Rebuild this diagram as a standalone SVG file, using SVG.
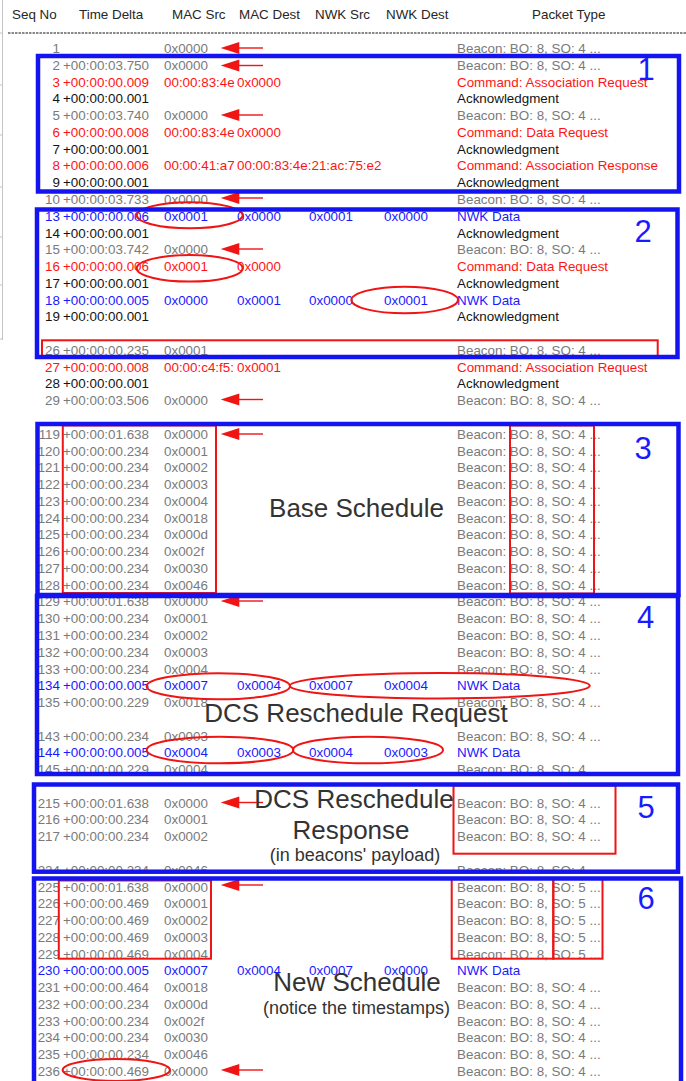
<svg xmlns="http://www.w3.org/2000/svg" width="686" height="1081" viewBox="0 0 686 1081">
<style>
  text { font-family: "Liberation Sans", Arial, sans-serif; }
  .row text { font-size: 13.4px; }
  .g { fill: #7a7a7a; }
  .r { fill: #ff1414; }
  .k { fill: #141414; }
  .b { fill: #1a1aff; }
  .seq { text-anchor: end; }
  .hdr { font-size: 13.4px; fill: #262626; }
  .sect { fill: none; stroke: #1414f0; stroke-width: 4.5; }
  .num { font-size: 31px; fill: #1a1aff; text-anchor: middle; }
  .mark { fill: none; stroke: #f01414; stroke-width: 2; }
  .big { font-size: 26px; fill: #333333; text-anchor: middle; }
  .small { font-size: 18px; fill: #333333; text-anchor: middle; }
  .arrow line { stroke: #f01414; stroke-width: 1.4; }
  .arrow path { fill: #f01414; }
</style>
<defs>
  <clipPath id="clip224"><rect x="0" y="850" width="686" height="21.5"/></clipPath>
  <g id="arr" class="arrow">
    <line x1="236" y1="0" x2="263" y2="0"/>
    <path d="M220.7 0 L239.3 -6 L239.3 6 Z"/>
  </g>
</defs>
<rect width="686" height="1081" fill="#ffffff"/>

<!-- window edge -->
<g id="edge" stroke="#c4c4c4" stroke-width="1">
  <line x1="2.5" y1="0" x2="2.5" y2="340"/>
  <line x1="0" y1="33" x2="3" y2="33"/>
  <line x1="0" y1="85" x2="3" y2="85"/>
  <line x1="0" y1="135" x2="3" y2="135"/>
  <line x1="0" y1="187" x2="3" y2="187"/>
  <line x1="0" y1="237" x2="3" y2="237"/>
  <line x1="0" y1="285" x2="3" y2="285"/>
  <line x1="0" y1="339" x2="3" y2="339"/>
</g>

<!-- column header -->
<g id="header">
  <text class="hdr" x="12" y="19">Seq No</text>
  <text class="hdr" x="79" y="19">Time Delta</text>
  <text class="hdr" x="172" y="19">MAC Src</text>
  <text class="hdr" x="239" y="19">MAC Dest</text>
  <text class="hdr" x="315" y="19">NWK Src</text>
  <text class="hdr" x="386" y="19">NWK Dest</text>
  <text class="hdr" x="532" y="19">Packet Type</text>
  <line x1="8" y1="33" x2="686" y2="33" stroke="#8a8a8a" stroke-width="2" stroke-dasharray="2.5 1"/>
</g>

<!-- packet rows: seq right-aligned at 60, delta 63, MAC src 164, MAC dest 237, NWK src 309, NWK dest 384, type 457 -->
<g id="rows-association" class="row">
  <g class="g"><text class="seq" x="60" y="53">1</text><text x="164" y="53">0x0000</text><text x="457" y="53">Beacon: BO: 8, SO: 4 ...</text></g>
  <g class="g"><text class="seq" x="60" y="69.8">2</text><text x="63" y="69.8">+00:00:03.750</text><text x="164" y="69.8">0x0000</text><text x="457" y="69.8">Beacon: BO: 8, SO: 4 ...</text></g>
  <g class="r"><text class="seq" x="60" y="86.5">3</text><text x="63" y="86.5">+00:00:00.009</text><text x="164" y="86.5">00:00:83:4e</text><text x="237" y="86.5">0x0000</text><text x="457" y="86.5">Command: Association Request</text></g>
  <g class="k"><text class="seq" x="60" y="103.3">4</text><text x="63" y="103.3">+00:00:00.001</text><text x="457" y="103.3">Acknowledgment</text></g>
  <g class="g"><text class="seq" x="60" y="120.1">5</text><text x="63" y="120.1">+00:00:03.740</text><text x="164" y="120.1">0x0000</text><text x="457" y="120.1">Beacon: BO: 8, SO: 4 ...</text></g>
  <g class="r"><text class="seq" x="60" y="136.9">6</text><text x="63" y="136.9">+00:00:00.008</text><text x="164" y="136.9">00:00:83:4e</text><text x="237" y="136.9">0x0000</text><text x="457" y="136.9">Command: Data Request</text></g>
  <g class="k"><text class="seq" x="60" y="153.6">7</text><text x="63" y="153.6">+00:00:00.001</text><text x="457" y="153.6">Acknowledgment</text></g>
  <g class="r"><text class="seq" x="60" y="170.4">8</text><text x="63" y="170.4">+00:00:00.006</text><text x="164" y="170.4">00:00:41:a7</text><text x="237" y="170.4">00:00:83:4e:21:ac:75:e2</text><text x="457" y="170.4">Command: Association Response</text></g>
  <g class="k"><text class="seq" x="60" y="187.2">9</text><text x="63" y="187.2">+00:00:00.001</text><text x="457" y="187.2">Acknowledgment</text></g>
  <g class="g"><text class="seq" x="60" y="203.9">10</text><text x="63" y="203.9">+00:00:03.733</text><text x="164" y="203.9">0x0000</text><text x="457" y="203.9">Beacon: BO: 8, SO: 4 ...</text></g>
  <g class="b"><text class="seq" x="60" y="220.7">13</text><text x="63" y="220.7">+00:00:00.006</text><text x="164" y="220.7">0x0001</text><text x="237" y="220.7">0x0000</text><text x="309" y="220.7">0x0001</text><text x="384" y="220.7">0x0000</text><text x="457" y="220.7">NWK Data</text></g>
  <g class="k"><text class="seq" x="60" y="237.5">14</text><text x="63" y="237.5">+00:00:00.001</text><text x="457" y="237.5">Acknowledgment</text></g>
  <g class="g"><text class="seq" x="60" y="254.2">15</text><text x="63" y="254.2">+00:00:03.742</text><text x="164" y="254.2">0x0000</text><text x="457" y="254.2">Beacon: BO: 8, SO: 4 ...</text></g>
  <g class="r"><text class="seq" x="60" y="271">16</text><text x="63" y="271">+00:00:00.006</text><text x="164" y="271">0x0001</text><text x="237" y="271">0x0000</text><text x="457" y="271">Command: Data Request</text></g>
  <g class="k"><text class="seq" x="60" y="287.8">17</text><text x="63" y="287.8">+00:00:00.001</text><text x="457" y="287.8">Acknowledgment</text></g>
  <g class="b"><text class="seq" x="60" y="304.6">18</text><text x="63" y="304.6">+00:00:00.005</text><text x="164" y="304.6">0x0000</text><text x="237" y="304.6">0x0001</text><text x="309" y="304.6">0x0000</text><text x="384" y="304.6">0x0001</text><text x="457" y="304.6">NWK Data</text></g>
  <g class="k"><text class="seq" x="60" y="321.3">19</text><text x="63" y="321.3">+00:00:00.001</text><text x="457" y="321.3">Acknowledgment</text></g>
  <g class="g"><text class="seq" x="60" y="354.9">26</text><text x="63" y="354.9">+00:00:00.235</text><text x="164" y="354.9">0x0001</text><text x="457" y="354.9">Beacon: BO: 8, SO: 4 ...</text></g>
  <g class="r"><text class="seq" x="60" y="371.6">27</text><text x="63" y="371.6">+00:00:00.008</text><text x="164" y="371.6">00:00:c4:f5:</text><text x="237" y="371.6">0x0001</text><text x="457" y="371.6">Command: Association Request</text></g>
  <g class="k"><text class="seq" x="60" y="388.4">28</text><text x="63" y="388.4">+00:00:00.001</text><text x="457" y="388.4">Acknowledgment</text></g>
  <g class="g"><text class="seq" x="60" y="405.2">29</text><text x="63" y="405.2">+00:00:03.506</text><text x="164" y="405.2">0x0000</text><text x="457" y="405.2">Beacon: BO: 8, SO: 4 ...</text></g>
</g>

<g id="rows-base" class="row g">
  <text class="seq" x="60" y="438.7">119</text><text x="63" y="438.7">+00:00:01.638</text><text x="164" y="438.7">0x0000</text><text x="457" y="438.7">Beacon: BO: 8, SO: 4 ...</text>
  <text class="seq" x="60" y="455.5">120</text><text x="63" y="455.5">+00:00:00.234</text><text x="164" y="455.5">0x0001</text><text x="457" y="455.5">Beacon: BO: 8, SO: 4 ...</text>
  <text class="seq" x="60" y="472.3">121</text><text x="63" y="472.3">+00:00:00.234</text><text x="164" y="472.3">0x0002</text><text x="457" y="472.3">Beacon: BO: 8, SO: 4 ...</text>
  <text class="seq" x="60" y="489">122</text><text x="63" y="489">+00:00:00.234</text><text x="164" y="489">0x0003</text><text x="457" y="489">Beacon: BO: 8, SO: 4 ...</text>
  <text class="seq" x="60" y="505.8">123</text><text x="63" y="505.8">+00:00:00.234</text><text x="164" y="505.8">0x0004</text><text x="457" y="505.8">Beacon: BO: 8, SO: 4 ...</text>
  <text class="seq" x="60" y="522.6">124</text><text x="63" y="522.6">+00:00:00.234</text><text x="164" y="522.6">0x0018</text><text x="457" y="522.6">Beacon: BO: 8, SO: 4 ...</text>
  <text class="seq" x="60" y="539.3">125</text><text x="63" y="539.3">+00:00:00.234</text><text x="164" y="539.3">0x000d</text><text x="457" y="539.3">Beacon: BO: 8, SO: 4 ...</text>
  <text class="seq" x="60" y="556.1">126</text><text x="63" y="556.1">+00:00:00.234</text><text x="164" y="556.1">0x002f</text><text x="457" y="556.1">Beacon: BO: 8, SO: 4 ...</text>
  <text class="seq" x="60" y="572.9">127</text><text x="63" y="572.9">+00:00:00.234</text><text x="164" y="572.9">0x0030</text><text x="457" y="572.9">Beacon: BO: 8, SO: 4 ...</text>
  <text class="seq" x="60" y="589.6">128</text><text x="63" y="589.6">+00:00:00.234</text><text x="164" y="589.6">0x0046</text><text x="457" y="589.6">Beacon: BO: 8, SO: 4 ...</text>
</g>

<g id="rows-request" class="row">
  <g class="g">
    <text class="seq" x="60" y="606.4">129</text><text x="63" y="606.4">+00:00:01.638</text><text x="164" y="606.4">0x0000</text><text x="457" y="606.4">Beacon: BO: 8, SO: 4 ...</text>
    <text class="seq" x="60" y="623.2">130</text><text x="63" y="623.2">+00:00:00.234</text><text x="164" y="623.2">0x0001</text><text x="457" y="623.2">Beacon: BO: 8, SO: 4 ...</text>
    <text class="seq" x="60" y="640">131</text><text x="63" y="640">+00:00:00.234</text><text x="164" y="640">0x0002</text><text x="457" y="640">Beacon: BO: 8, SO: 4 ...</text>
    <text class="seq" x="60" y="656.7">132</text><text x="63" y="656.7">+00:00:00.234</text><text x="164" y="656.7">0x0003</text><text x="457" y="656.7">Beacon: BO: 8, SO: 4 ...</text>
    <text class="seq" x="60" y="673.5">133</text><text x="63" y="673.5">+00:00:00.234</text><text x="164" y="673.5">0x0004</text><text x="457" y="673.5">Beacon: BO: 8, SO: 4 ...</text>
  </g>
  <g class="b"><text class="seq" x="60" y="690.3">134</text><text x="63" y="690.3">+00:00:00.005</text><text x="164" y="690.3">0x0007</text><text x="237" y="690.3">0x0004</text><text x="309" y="690.3">0x0007</text><text x="384" y="690.3">0x0004</text><text x="457" y="690.3">NWK Data</text></g>
  <g class="g"><text class="seq" x="60" y="707">135</text><text x="63" y="707">+00:00:00.229</text><text x="164" y="707">0x0018</text><text x="457" y="707">Beacon: BO: 8, SO: 4 ...</text></g>
  <g class="g"><text class="seq" x="60" y="740.6">143</text><text x="63" y="740.6">+00:00:00.234</text><text x="164" y="740.6">0x0003</text><text x="457" y="740.6">Beacon: BO: 8, SO: 4 ...</text></g>
  <g class="b"><text class="seq" x="60" y="757.3">144</text><text x="63" y="757.3">+00:00:00.005</text><text x="164" y="757.3">0x0004</text><text x="237" y="757.3">0x0003</text><text x="309" y="757.3">0x0004</text><text x="384" y="757.3">0x0003</text><text x="457" y="757.3">NWK Data</text></g>
  <g class="g"><text class="seq" x="60" y="774.1">145</text><text x="63" y="774.1">+00:00:00.229</text><text x="164" y="774.1">0x0004</text><text x="457" y="774.1">Beacon: BO: 8, SO: 4 ...</text></g>
</g>

<g id="rows-response" class="row g">
  <text class="seq" x="60" y="807.7">215</text><text x="63" y="807.7">+00:00:01.638</text><text x="164" y="807.7">0x0000</text><text x="457" y="807.7">Beacon: BO: 8, SO: 4 ...</text>
  <text class="seq" x="60" y="824.4">216</text><text x="63" y="824.4">+00:00:00.234</text><text x="164" y="824.4">0x0001</text><text x="457" y="824.4">Beacon: BO: 8, SO: 4 ...</text>
  <text class="seq" x="60" y="841.2">217</text><text x="63" y="841.2">+00:00:00.234</text><text x="164" y="841.2">0x0002</text><text x="457" y="841.2">Beacon: BO: 8, SO: 4 ...</text>
  <g clip-path="url(#clip224)">
    <text class="seq" x="60" y="874.7">224</text><text x="63" y="874.7">+00:00:00.234</text><text x="164" y="874.7">0x0046</text><text x="457" y="874.7">Beacon: BO: 8, SO: 4 ...</text>
  </g>
</g>

<g id="rows-new" class="row">
  <g class="g">
    <text class="seq" x="60" y="891.5">225</text><text x="63" y="891.5">+00:00:01.638</text><text x="164" y="891.5">0x0000</text><text x="457" y="891.5">Beacon: BO: 8, SO: 5 ...</text>
    <text class="seq" x="60" y="908.3">226</text><text x="63" y="908.3">+00:00:00.469</text><text x="164" y="908.3">0x0001</text><text x="457" y="908.3">Beacon: BO: 8, SO: 5 ...</text>
    <text class="seq" x="60" y="925">227</text><text x="63" y="925">+00:00:00.469</text><text x="164" y="925">0x0002</text><text x="457" y="925">Beacon: BO: 8, SO: 5 ...</text>
    <text class="seq" x="60" y="941.8">228</text><text x="63" y="941.8">+00:00:00.469</text><text x="164" y="941.8">0x0003</text><text x="457" y="941.8">Beacon: BO: 8, SO: 5 ...</text>
    <text class="seq" x="60" y="958.6">229</text><text x="63" y="958.6">+00:00:00.469</text><text x="164" y="958.6">0x0004</text><text x="457" y="958.6">Beacon: BO: 8, SO: 5 ...</text>
  </g>
  <g class="b"><text class="seq" x="60" y="975.4">230</text><text x="63" y="975.4">+00:00:00.005</text><text x="164" y="975.4">0x0007</text><text x="237" y="975.4">0x0004</text><text x="309" y="975.4">0x0007</text><text x="384" y="975.4">0x0000</text><text x="457" y="975.4">NWK Data</text></g>
  <g class="g">
    <text class="seq" x="60" y="992.1">231</text><text x="63" y="992.1">+00:00:00.464</text><text x="164" y="992.1">0x0018</text><text x="457" y="992.1">Beacon: BO: 8, SO: 4 ...</text>
    <text class="seq" x="60" y="1008.9">232</text><text x="63" y="1008.9">+00:00:00.234</text><text x="164" y="1008.9">0x000d</text><text x="457" y="1008.9">Beacon: BO: 8, SO: 4 ...</text>
    <text class="seq" x="60" y="1025.7">233</text><text x="63" y="1025.7">+00:00:00.234</text><text x="164" y="1025.7">0x002f</text><text x="457" y="1025.7">Beacon: BO: 8, SO: 4 ...</text>
    <text class="seq" x="60" y="1042.4">234</text><text x="63" y="1042.4">+00:00:00.234</text><text x="164" y="1042.4">0x0030</text><text x="457" y="1042.4">Beacon: BO: 8, SO: 4 ...</text>
    <text class="seq" x="60" y="1059.2">235</text><text x="63" y="1059.2">+00:00:00.234</text><text x="164" y="1059.2">0x0046</text><text x="457" y="1059.2">Beacon: BO: 8, SO: 4 ...</text>
    <text class="seq" x="60" y="1076">236</text><text x="63" y="1076">+00:00:00.469</text><text x="164" y="1076">0x0000</text><text x="457" y="1076">Beacon: BO: 8, SO: 4 ...</text>
  </g>
</g>

<!-- red highlight marks -->
<g id="marks" class="mark">
  <ellipse cx="189.7" cy="215.3" rx="53" ry="13"/>
  <ellipse cx="189.7" cy="268.3" rx="53" ry="13.3"/>
  <ellipse cx="404.7" cy="300" rx="53.3" ry="13.3"/>
  <rect x="42" y="340.3" width="615.7" height="15.7"/>
  <rect x="62.8" y="425.5" width="153.2" height="167.5"/>
  <rect x="510" y="425.5" width="84" height="168"/>
  <ellipse cx="218.3" cy="686.3" rx="71.7" ry="13"/>
  <ellipse cx="439.8" cy="685.7" rx="150" ry="12.7"/>
  <ellipse cx="220" cy="750" rx="73.3" ry="13.3"/>
  <ellipse cx="368" cy="750" rx="75" ry="13.3"/>
  <rect x="453.5" y="785.5" width="162" height="68.2"/>
  <rect x="58.8" y="880.5" width="152.2" height="78.2"/>
  <rect x="451.7" y="879" width="101.6" height="79.7"/>
  <rect x="553.3" y="879" width="49.2" height="79.7"/>
  <ellipse cx="116.3" cy="1070" rx="53.7" ry="11"/>
</g>

<!-- beacon pointers -->
<g id="connectors">
  <use href="#arr" y="48"/>
  <use href="#arr" y="65.5"/>
  <use href="#arr" y="115"/>
  <use href="#arr" y="198"/>
  <use href="#arr" y="249"/>
  <use href="#arr" y="399.5"/>
  <use href="#arr" y="434"/>
  <use href="#arr" y="601"/>
  <use href="#arr" y="802.5"/>
  <use href="#arr" y="885"/>
  <use href="#arr" y="1070"/>
</g>

<!-- numbered phases -->
<g id="phase-1"><rect class="sect" x="38" y="56" width="641" height="135.5"/><text class="num" x="646" y="80">1</text></g>
<g id="phase-2"><rect class="sect" x="37" y="209.5" width="640.5" height="147.5"/><text class="num" x="643" y="242">2</text></g>
<g id="phase-3"><rect class="sect" x="37.5" y="424" width="641" height="171"/><text class="num" x="643" y="459">3</text>
  <text class="big" x="356.5" y="516.7">Base Schedule</text></g>
<g id="phase-4"><rect class="sect" x="37" y="596" width="641" height="178"/><text class="num" x="645.5" y="628">4</text>
  <text class="big" x="356" y="721.7">DCS Reschedule Request</text></g>
<g id="phase-5"><rect class="sect" x="34" y="784.5" width="644" height="87.2"/><text class="num" x="646" y="818">5</text>
  <text class="big" x="354" y="808">DCS Reschedule</text>
  <text class="big" x="351" y="839">Response</text>
  <text class="small" x="355" y="861">(in beacons' payload)</text></g>
<g id="phase-6"><rect class="sect" x="34" y="878.5" width="647" height="220"/><text class="num" x="646" y="909">6</text>
  <text class="big" x="357" y="991">New Schedule</text>
  <text class="small" x="356.5" y="1014">(notice the timestamps)</text></g>
</svg>
